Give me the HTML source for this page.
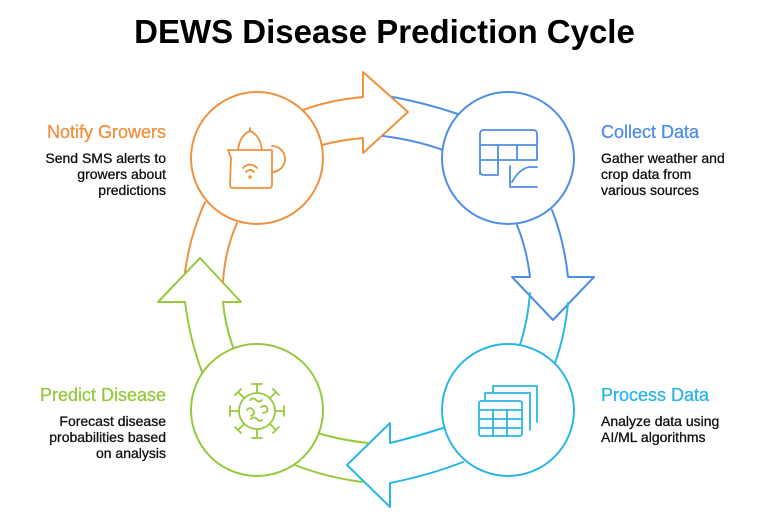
<!DOCTYPE html>
<html><head><meta charset="utf-8"><style>
body{margin:0;background:#fff;width:769px;height:521px;overflow:hidden}
svg{display:block}
text{font-family:"Liberation Sans",sans-serif}
</style></head><body>
<svg width="769" height="521" viewBox="0 0 769 521" fill="none" stroke-width="2" stroke-linejoin="round" stroke-linecap="round">
<text x="384.5" y="43" text-anchor="middle" font-size="33" font-weight="bold" fill="#000" stroke="none">DEWS Disease Prediction Cycle</text>

<path d="M303,110 Q330,100 363,97 L363,72 L408,112 L363,153 L363,138 Q340,140 322,145" stroke="#F0913E"/>
<path d="M393,97 Q425,103 458,114 M383,136 Q415,140 443,150" stroke="#4F8EE8"/>
<path d="M517,225 Q527,250 530,277 L512,277 L553,320 L594,277 L568,277 Q564,240 552,210" stroke="#4F8EE8"/>
<path d="M530,293 Q528,320 520,345 M568,303 Q565,335 555,363" stroke="#2BB6E8"/>
<path d="M443,428 Q415,437 390,443 L390,423 L347,465 L390,507 L390,483 Q430,475 463,462" stroke="#2BB6E8"/>
<path d="M318,433 Q340,440 368,443 M295,465 Q325,477 362,482" stroke="#97C93D"/>
<path d="M233,347 Q225,325 223,302 L241,302 L200,258 L158,302 L185,302 Q190,340 202,372" stroke="#97C93D"/>
<path d="M223,282 Q225,250 237,223 M185,272 Q190,235 205,202" stroke="#F0913E"/>

<circle cx="257" cy="158" r="66" fill="#fff" stroke="#F0913E"/>
<circle cx="508" cy="158" r="66" fill="#fff" stroke="#4F8EE8"/>
<circle cx="508" cy="410" r="66" fill="#fff" stroke="#2BB6E8"/>
<circle cx="257" cy="410" r="66" fill="#fff" stroke="#97C93D"/>

<g stroke="#F0913E" stroke-width="1.8">
<path d="M228,150 L272,150 L272,185 Q272,188 269,188 L233,188 Q230,188 230,185 L231,158 Z"/>
<path d="M238,150 Q240,135 250,131 Q260,135 262,150"/>
<path d="M250,131 L250,128"/>
<path d="M272,146 A10,10 0 0 1 272,172"/>
<path d="M243,168 Q250,161 257,168 M246,172 Q250,168 254,172"/>
<circle cx="250" cy="177" r="0.8"/>
</g>
<g stroke="#4F8EE8" stroke-width="1.8">
<path d="M480,174 L480,134 Q480,130 484,130 L533,130 Q537,130 537,134 L537,160 L480,160 M480,145 L537,145 M498,145 L498,175 L484,175 Q480,175 480,171 M517,145 L517,160"/>
<path d="M510,166 L510,187 L537,187 M512,182 Q520,168 530,167 L537,167"/>
</g>
<g stroke="#2BB6E8" stroke-width="1.8">
<rect x="479" y="401" width="43" height="35" rx="2"/>
<path d="M479,410 L522,410 M479,419 L522,419 M479,428 L522,428 M493,410 L493,436 M507,410 L507,436"/>
<path d="M485,401 L485,393 L530,393 L530,430 M493,393 L493,386 L537,386 L537,422"/>
</g>
<g stroke="#97C93D" stroke-width="1.8">
<circle cx="257" cy="411" r="18"/>
<path d="M257,393 L257,384 M252,384 L262,384 M257,429 L257,438 M252,438 L262,438 M239,411 L230,411 M230,406 L230,416 M275,411 L284,411 M284,406 L284,416"/>
<path d="M244,398 L238,392 M235,395 L241,389 M270,398 L276,392 M273,389 L279,395 M244,424 L238,430 M235,427 L241,433 M270,424 L276,430 M273,433 L279,427"/>
<path d="M250,400 q3,-3 6,0 t6,0 M247,410 q3,-4 6,0 t-2,6 M261,407 q4,-3 6,1 t-4,5 M251,419 q3,-3 6,0 t5,1"/>
</g>

<g font-size="14" fill="#111" stroke="#111" stroke-width="0.3">
<text x="166" y="138" text-anchor="end" font-size="18" fill="#F0913E" stroke="#F0913E">Notify Growers</text>
<text x="166" y="163" text-anchor="end">Send SMS alerts to</text>
<text x="166" y="179" text-anchor="end">growers about</text>
<text x="166" y="195" text-anchor="end">predictions</text>

<text x="601" y="138" font-size="18" fill="#4F8EE8" stroke="#4F8EE8">Collect Data</text>
<text x="601" y="163">Gather weather and</text>
<text x="601" y="179">crop data from</text>
<text x="601" y="195">various sources</text>

<text x="601" y="401" font-size="18" fill="#2BB6E8" stroke="#2BB6E8">Process Data</text>
<text x="601" y="426">Analyze data using</text>
<text x="601" y="442">AI/ML algorithms</text>

<text x="166" y="401" text-anchor="end" font-size="18" fill="#97C93D" stroke="#97C93D">Predict Disease</text>
<text x="166" y="426" text-anchor="end">Forecast disease</text>
<text x="166" y="442" text-anchor="end">probabilities based</text>
<text x="166" y="458" text-anchor="end">on analysis</text>
</g>
</svg>
</body></html>
